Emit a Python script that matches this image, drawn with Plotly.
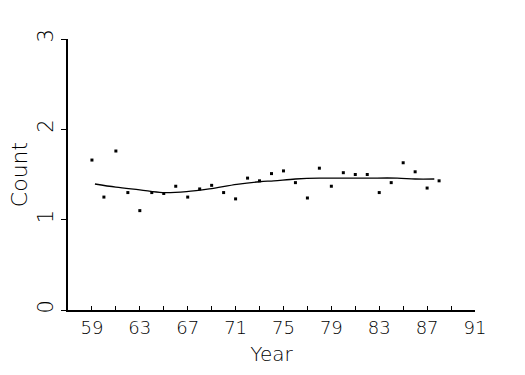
import plotly.graph_objects as go

years = list(range(59, 89))
counts = [1.66, 1.25, 1.76, 1.30, 1.10, 1.30, 1.29, 1.37, 1.25, 1.34,
          1.38, 1.30, 1.23, 1.46, 1.43, 1.51, 1.54, 1.41, 1.24, 1.57,
          1.37, 1.52, 1.50, 1.50, 1.30, 1.41, 1.63, 1.53, 1.35, 1.43]

smooth_x = [59.25, 61, 63, 64.9, 66.9, 68.8, 71.1, 73, 74.2, 76, 78, 80, 82, 84.5, 86, 87.6]
smooth_y = [1.395, 1.36, 1.33, 1.30, 1.31, 1.34, 1.39, 1.42, 1.43, 1.45, 1.46, 1.46, 1.46, 1.46, 1.45, 1.45]

x_ticks = [59, 63, 67, 71, 75, 79, 83, 87, 91]
y_ticks = [0, 1, 2, 3]

font_family = "DejaVu Sans"

fig = go.Figure()
fig.add_trace(go.Scatter(x=years, y=counts, mode="markers",
                         marker=dict(symbol="square", size=3, color="black", line=dict(width=0)),
                         showlegend=False))
fig.add_trace(go.Scatter(x=smooth_x, y=smooth_y, mode="lines",
                         line=dict(color="black", width=1.3, shape="spline"),
                         showlegend=False))

fig.update_layout(
    width=525, height=375,
    margin=dict(l=68, r=50, t=39, b=65),
    paper_bgcolor="white", plot_bgcolor="white",
    font=dict(family=font_family, color="black", weight=300),
    xaxis=dict(range=[57, 91], tickvals=x_ticks, ticktext=[str(v) for v in x_ticks],
               ticks="inside", ticklen=4, tickwidth=1, tickcolor="black",
               minor=dict(dtick=2, tick0=59, ticks="inside", ticklen=4, tickwidth=1, tickcolor="black", showgrid=False),
               showline=True, linewidth=2, linecolor="black", showgrid=False, zeroline=False,
               tickfont=dict(size=18, family=font_family, weight=300, color="black"),
               title=dict(text="Year", font=dict(size=20, family=font_family, weight=300, color="black"), standoff=10)),
    yaxis=dict(range=[0, 3], tickvals=y_ticks, ticks="outside", ticklen=5, tickwidth=1, tickcolor="black",
               tickangle=-90,
               showline=True, linewidth=2, linecolor="black", showgrid=False, zeroline=False,
               tickfont=dict(size=21, family=font_family, weight=300, color="black"),
               title=dict(text="Count", font=dict(size=22, family=font_family, weight=300, color="black"), standoff=0)),
)

fig.write_html("out.html")
